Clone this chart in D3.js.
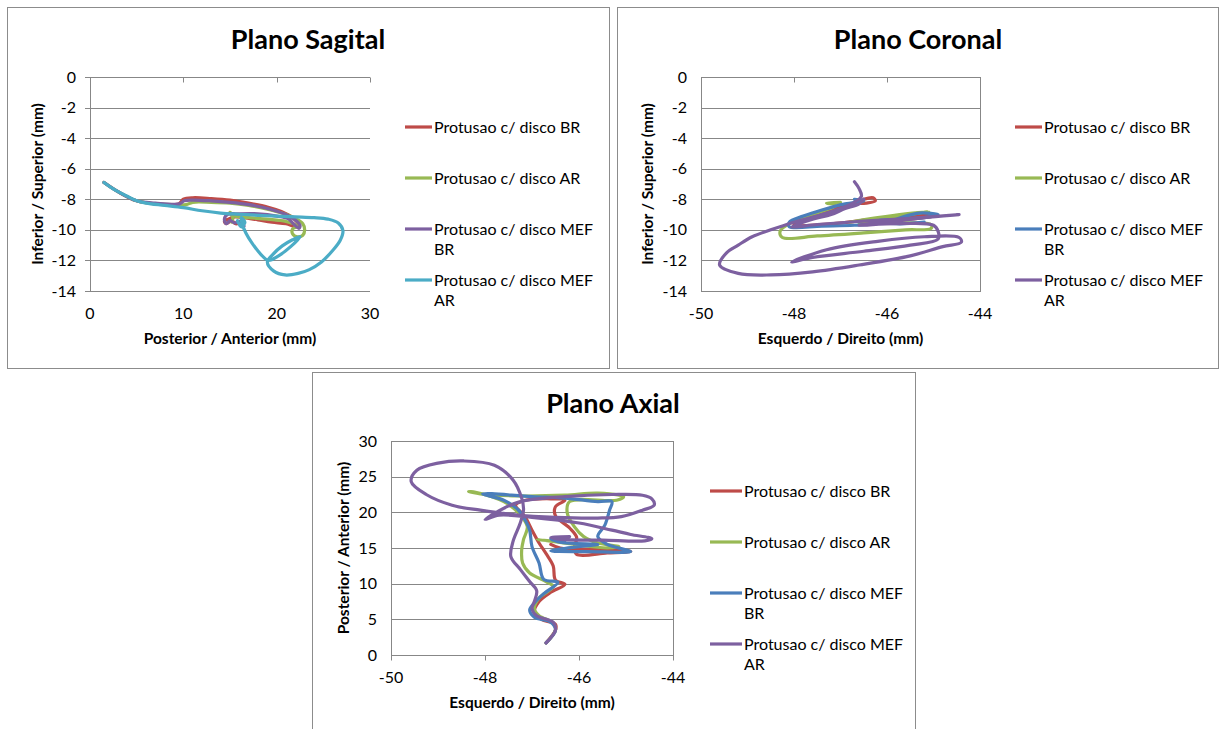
<!DOCTYPE html>
<html>
<head>
<meta charset="utf-8">
<script src="https://cdn.jsdelivr.net/npm/d3@7"></script>
<style>
  html, body { margin: 0; padding: 0; background: #fff; }
  svg { display: block; font-family: Lato, "Open Sans", sans-serif; }
</style>
</head>
<body>
<svg id="fig" width="1221" height="729"></svg>
<script>
// ---- Series names ----
const seriesNames = [
  "Protusao c/ disco BR",
  "Protusao c/ disco AR",
  "Protusao c/ disco MEF BR",
  "Protusao c/ disco MEF AR"
];

// ---- Tick values ----
const apTicks = [0, 10, 20, 30];
const isTicks = [0, -2, -4, -6, -8, -10, -12, -14];
const lrTicks = [-50, -48, -46, -44];
const apAxialTicks = [0, 5, 10, 15, 20, 25, 30];

// ---- Sagittal plane: [posterior/anterior, inferior/superior] ----
const sagBR = [[1.5,-6.9],[3,-7.5],[5,-8.1],[7,-8.3],[9.5,-8.3],[10,-8.0],[11,-7.9],[13,-7.95],[15,-8.05],[17,-8.25],[19,-8.5],[20.5,-8.8],[21.7,-9.2],[22.3,-9.6],[22.2,-9.8],[21,-9.6],[19.5,-9.5],[18,-9.35],[16.5,-9.2],[15.5,-9.15],[14.8,-9.3],[14.4,-9.45],[14.6,-9.6],[15.2,-9.4],[15.6,-9.6],[16.3,-9.5]];
const sagAR = [[1.5,-6.9],[3,-7.5],[5,-8.1],[7,-8.3],[9.5,-8.35],[10.3,-8.35],[11,-8.2],[13,-8.2],[15,-8.25],[17,-8.4],[19,-8.65],[20.8,-8.95],[22,-9.25],[22.8,-9.6],[23,-10.0],[22.8,-10.35],[22.2,-10.45],[21.7,-10.25],[21.7,-9.95],[22.2,-9.75],[21,-9.45],[19,-9.3],[17,-9.2],[15.5,-9.1],[15,-8.85],[15.3,-9.2],[15.2,-9.5]];
const sagMefBR = [[1.5,-6.9],[3,-7.5],[5,-8.1],[7,-8.25],[9.6,-8.3],[10.1,-8.1],[11,-8.05],[13,-8.1],[15,-8.2],[17,-8.35],[19,-8.6],[20.8,-8.95],[22,-9.35],[22.5,-9.7],[22.4,-9.9],[21.8,-9.6],[21.3,-9.3],[20,-9.1],[18,-8.95],[16,-8.95],[14.7,-9.0],[14.4,-9.3],[14.6,-9.6],[15,-9.4],[15.5,-9.55],[16,-9.45],[16.5,-9.75]];
const sagMefAR = [[1.5,-6.9],[2.2,-7.2],[3,-7.5],[4,-7.8],[5,-8.1],[6,-8.25],[8,-8.4],[10,-8.55],[12,-8.75],[14,-8.9],[16,-8.98],[18,-9.05],[20,-9.1],[22,-9.15],[24,-9.2],[25.5,-9.3],[26.6,-9.55],[27.1,-10.05],[26.8,-10.7],[26,-11.35],[24.8,-12.1],[23.5,-12.6],[22.3,-12.85],[20.9,-12.95],[19.7,-12.7],[19,-12.1],[19.6,-11.6],[20.6,-11.05],[21.7,-10.65],[22.5,-10.45],[21.5,-11.1],[20.2,-11.7],[19.1,-12.0],[18.3,-11.6],[17.4,-10.9],[16.7,-10.2],[16.3,-9.6],[16.2,-9.2],[16.6,-9.5],[16.2,-9.8],[15.8,-9.4]];

// ---- Coronal plane: [left/right, inferior/superior] ----
const corBR = [[-46.5,-8.0],[-46.3,-7.9],[-46.25,-8.1],[-46.45,-8.25],[-46.8,-8.3],[-47.3,-8.8],[-47.9,-9.4],[-48.0,-9.65],[-47.2,-9.6],[-46.3,-9.3],[-45.8,-9.15],[-45.3,-9.05],[-45.0,-9.1],[-45.5,-9.3],[-46.0,-9.45],[-46.5,-9.55]];
const corAR = [[-47.0,-8.2],[-47.3,-8.25],[-47.1,-8.4],[-47.6,-9.0],[-48.1,-9.6],[-48.3,-10.1],[-48.25,-10.5],[-47.5,-10.4],[-46.5,-10.2],[-45.6,-10.0],[-45.05,-9.9],[-45.05,-9.65],[-45.8,-9.55],[-46.6,-9.55],[-46.0,-9.2],[-45.5,-9.0],[-45.1,-8.8],[-45.6,-8.95],[-46.2,-9.2],[-46.8,-9.5]];
const corMefBR = [[-46.7,-8.0],[-46.5,-8.1],[-46.9,-8.3],[-47.4,-8.7],[-47.8,-9.1],[-48.1,-9.5],[-48.1,-9.8],[-47.4,-9.75],[-46.7,-9.7],[-46.0,-9.5],[-45.6,-9.1],[-45.3,-8.9],[-44.9,-9.0],[-45.2,-9.2],[-45.7,-9.3],[-46.2,-9.4],[-45.8,-9.6],[-45.2,-9.5]];
const corMefAR = [[-46.7,-6.85],[-46.6,-7.3],[-46.55,-7.8],[-46.7,-8.2],[-47.0,-8.6],[-47.4,-9.0],[-48.0,-9.5],[-48.5,-10.0],[-48.9,-10.45],[-49.2,-11.0],[-49.45,-11.5],[-49.6,-12.3],[-49.2,-12.85],[-48.5,-12.95],[-47.6,-12.75],[-46.6,-12.3],[-45.5,-11.7],[-44.8,-11.1],[-44.4,-10.8],[-44.45,-10.5],[-45.2,-10.45],[-46.2,-10.75],[-47.3,-11.3],[-48.05,-12.1],[-47.6,-11.8],[-46.5,-11.4],[-45.5,-11.0],[-44.9,-10.6],[-44.9,-10.1],[-45.0,-9.7],[-45.8,-9.6],[-46.6,-9.7],[-46.0,-9.5],[-45.2,-9.2],[-44.45,-9.0],[-45.5,-9.25],[-46.6,-9.45],[-47.5,-9.65],[-48.05,-9.8],[-47.6,-9.3],[-47.2,-9.0],[-46.9,-8.6],[-46.6,-8.3],[-46.5,-8.0]];

// ---- Axial plane: [left/right, posterior/anterior] ----
const axBR = [[-46.7,1.7],[-46.5,3.5],[-46.5,4.3],[-46.8,5.0],[-46.95,6.0],[-46.85,7.5],[-46.6,8.8],[-46.3,9.9],[-46.5,10.5],[-46.55,12.5],[-46.7,14.2],[-46.85,15.7],[-47.0,17.5],[-47.15,19.4],[-47.35,21.0],[-47.2,21.6],[-46.6,21.9],[-46.3,21.7],[-46.5,20.8],[-46.5,19.5],[-46.2,17.8],[-46.05,16.5],[-46.1,15.0],[-46.05,14.1],[-45.4,14.3],[-44.9,14.5],[-45.6,14.8],[-46.4,15.0],[-46.6,15.5]];
const axAR = [[-46.7,1.7],[-46.5,3.5],[-46.55,4.5],[-46.85,5.5],[-46.95,6.5],[-46.85,8.0],[-46.55,9.6],[-46.7,10.3],[-47.05,11.5],[-47.2,12.9],[-47.22,14.7],[-47.18,16.2],[-47.1,18.0],[-47.3,20.0],[-47.6,21.5],[-48.2,22.8],[-48.35,22.9],[-48.1,22.6],[-47.3,22.3],[-46.3,22.4],[-45.6,22.7],[-45.05,22.2],[-45.2,21.7],[-46.2,21.5],[-46.25,19.9],[-46.1,18.0],[-45.9,16.6],[-45.6,15.7],[-45.15,15.2],[-45.4,15.0],[-46.2,15.6],[-46.9,16.2],[-46.6,16.0]];
const axMefBR = [[-46.7,1.7],[-46.5,3.5],[-46.6,4.6],[-46.95,5.3],[-47.05,6.3],[-46.95,7.3],[-46.75,8.6],[-46.45,10.2],[-46.75,10.6],[-46.85,12.9],[-47.0,15.2],[-47.05,17.5],[-47.15,19.0],[-47.3,20.4],[-47.6,21.7],[-48.05,22.6],[-47.0,22.2],[-46.3,22.0],[-45.6,21.5],[-45.3,21.5],[-45.35,20.3],[-45.45,18.2],[-45.6,16.6],[-45.4,15.5],[-44.9,14.5],[-45.8,14.5],[-46.6,14.6],[-46.0,15.2],[-45.6,15.5],[-46.4,15.8],[-46.6,16.3],[-46.3,16.1]];
const axMefAR = [[-46.7,1.7],[-46.5,3.5],[-46.55,4.6],[-46.9,5.5],[-47.0,6.5],[-46.95,7.5],[-46.9,9.0],[-47.05,10.3],[-47.25,12.0],[-47.45,13.8],[-47.4,16.0],[-47.25,18.5],[-47.18,20.4],[-47.22,22.0],[-47.4,24.5],[-47.8,26.6],[-48.45,27.2],[-49.0,26.9],[-49.45,25.9],[-49.57,24.3],[-49.25,22.5],[-48.7,21.0],[-48.1,20.3],[-47.4,19.7],[-46.5,19.3],[-45.6,19.2],[-45.1,19.4],[-44.65,20.3],[-44.4,21.0],[-44.45,21.9],[-44.65,22.4],[-45.3,22.5],[-46.3,22.2],[-47.3,21.4],[-48.0,19.0],[-47.7,19.6],[-47.0,19.3],[-46.0,18.5],[-45.3,17.5],[-44.9,16.9],[-44.45,16.3],[-44.6,16.0],[-45.5,16.1],[-46.4,16.2],[-46.6,16.5],[-46.2,16.6]];

// ---- Colours ----
const RED = "#be4b48", GREEN = "#98b954", PURPLE = "#7d60a0", BLUE = "#4a7ebb", AQUA = "#4bacc6";
const GRID = "#878787", FRAME = "#8c8c8c";

const svg = d3.select("#fig");

function wrapLabel(textSel, str, maxW) {
  const words = str.split(" ");
  let line = [];
  let tspan = textSel.append("tspan").attr("x", textSel.attr("x")).attr("dy", 0);
  for (const w of words) {
    line.push(w);
    tspan.text(line.join(" "));
    if (tspan.node().getComputedTextLength() > maxW && line.length > 1) {
      line.pop();
      tspan.text(line.join(" "));
      line = [w];
      tspan = textSel.append("tspan").attr("x", textSel.attr("x")).attr("dy", 20).text(w);
    }
  }
}

function drawChart(cfg) {
  const g = svg.append("g");
  // chart frame
  g.append("rect")
    .attr("x", cfg.box[0] + 0.5).attr("y", cfg.box[1] + 0.5)
    .attr("width", cfg.box[2]).attr("height", cfg.box[3])
    .attr("fill", "#fff").attr("stroke", FRAME).attr("stroke-width", 1);

  const x = d3.scaleLinear().domain(cfg.xDomain).range([cfg.plot.l, cfg.plot.r]);
  const y = d3.scaleLinear().domain(cfg.yDomain).range([cfg.plot.b, cfg.plot.t]);

  // horizontal gridlines
  g.append("g").selectAll("line").data(cfg.yTicks).join("line")
    .attr("x1", cfg.plot.l).attr("x2", cfg.plot.r)
    .attr("y1", d => Math.round(y(d)) + 0.5).attr("y2", d => Math.round(y(d)) + 0.5)
    .attr("stroke", GRID).attr("stroke-width", 1);

  // vertical axis lines
  cfg.vLines.forEach(v => {
    const px = Math.round(x(v)) + 0.5;
    g.append("line").attr("x1", px).attr("x2", px)
      .attr("y1", cfg.plot.t).attr("y2", cfg.plot.b + 1)
      .attr("stroke", GRID).attr("stroke-width", 1);
  });

  // y tick marks on the left axis
  if (cfg.yTickMarks) {
    g.append("g").selectAll("line").data(cfg.yTicks).join("line")
      .attr("x1", cfg.plot.l - 5).attr("x2", cfg.plot.l)
      .attr("y1", d => Math.round(y(d)) + 0.5).attr("y2", d => Math.round(y(d)) + 0.5)
      .attr("stroke", GRID);
  }

  // x axis tick marks along the axis line (top or bottom)
  const axY = Math.round(y(cfg.xAxisAt)) + 0.5;
  g.append("g").selectAll("line").data(cfg.xTicks).join("line")
    .attr("x1", d => Math.round(x(d)) + 0.5).attr("x2", d => Math.round(x(d)) + 0.5)
    .attr("y1", axY).attr("y2", axY + 5)
    .attr("stroke", GRID);

  // tick labels
  g.append("g").selectAll("text").data(cfg.yTicks).join("text")
    .attr("x", cfg.plot.l - 14).attr("y", d => y(d) + 5.5)
    .attr("text-anchor", "end").attr("font-size", 16).attr("fill", "#000")
    .text(d => d);
  g.append("g").selectAll("text").data(cfg.xTicks).join("text")
    .attr("x", d => x(d)).attr("y", cfg.plot.b + 28)
    .attr("text-anchor", "middle").attr("font-size", 16).attr("fill", "#000")
    .text(d => d);

  // titles
  g.append("text").attr("x", cfg.titlePos[0]).attr("y", cfg.titlePos[1])
    .attr("text-anchor", "middle").attr("font-size", 27).attr("font-weight", "bold")
    .text(cfg.title);
  g.append("text").attr("x", (cfg.plot.l + cfg.plot.r) / 2).attr("y", cfg.plot.b + 53)
    .attr("text-anchor", "middle").attr("font-size", 15.5).attr("font-weight", "bold")
    .text(cfg.xTitle);
  g.append("text")
    .attr("transform", `translate(${cfg.yTitleX},${(cfg.plot.t + cfg.plot.b) / 2}) rotate(-90)`)
    .attr("text-anchor", "middle").attr("font-size", 15.5).attr("font-weight", "bold")
    .text(cfg.yTitle);

  // series paths
  const line = d3.line().curve(d3.curveCatmullRom.alpha(0.5)).x(d => x(d[0])).y(d => y(d[1]));
  cfg.series.forEach(s => {
    g.append("path").datum(s.data)
      .attr("d", line).attr("fill", "none")
      .attr("stroke", s.color).attr("stroke-width", 3.2)
      .attr("stroke-linejoin", "round").attr("stroke-linecap", "round");
  });

  // legend
  const lg = g.append("g");
  cfg.series.forEach((s, i) => {
    const ly = cfg.legend.y + i * cfg.legend.step;
    lg.append("line").attr("x1", cfg.legend.x).attr("x2", cfg.legend.x + cfg.legend.len)
      .attr("y1", ly).attr("y2", ly)
      .attr("stroke", s.color).attr("stroke-width", 3.2);
    const t = lg.append("text").attr("x", cfg.legend.x + cfg.legend.len + 2).attr("y", ly + 5.5)
      .attr("font-size", 16).attr("fill", "#000");
    wrapLabel(t, s.name, cfg.legend.maxW);
  });
}

drawChart({
  box: [7, 7, 602, 361],
  plot: { l: 90, r: 370, t: 77, b: 291 },
  xDomain: [0, 30], yDomain: [-14, 0],
  xTicks: apTicks, yTicks: isTicks,
  xAxisAt: 0, vLines: [0], yTickMarks: true,
  title: "Plano Sagital", titlePos: [308, 49],
  xTitle: "Posterior / Anterior (mm)", yTitle: "Inferior / Superior (mm)", yTitleX: 43,
  series: [
    { name: seriesNames[0], color: RED, data: sagBR },
    { name: seriesNames[1], color: GREEN, data: sagAR },
    { name: seriesNames[2], color: PURPLE, data: sagMefBR },
    { name: seriesNames[3], color: AQUA, data: sagMefAR }
  ],
  legend: { x: 405, y: 127, step: 51, len: 27, maxW: 168 }
});

drawChart({
  box: [617, 7, 601, 361],
  plot: { l: 701, r: 980, t: 77, b: 291 },
  xDomain: [-50, -44], yDomain: [-14, 0],
  xTicks: lrTicks, yTicks: isTicks,
  xAxisAt: 0, vLines: [-50, -44], yTickMarks: false,
  title: "Plano Coronal", titlePos: [918, 49],
  xTitle: "Esquerdo / Direito (mm)", yTitle: "Inferior / Superior (mm)", yTitleX: 653,
  series: [
    { name: seriesNames[0], color: RED, data: corBR },
    { name: seriesNames[1], color: GREEN, data: corAR },
    { name: seriesNames[2], color: BLUE, data: corMefBR },
    { name: seriesNames[3], color: PURPLE, data: corMefAR }
  ],
  legend: { x: 1015, y: 127, step: 51, len: 27, maxW: 168 }
});

drawChart({
  box: [312, 372, 603, 360],
  plot: { l: 391, r: 673, t: 441, b: 655 },
  xDomain: [-50, -44], yDomain: [0, 30],
  xTicks: lrTicks, yTicks: apAxialTicks,
  xAxisAt: 0, vLines: [-50, -44], yTickMarks: false,
  title: "Plano Axial", titlePos: [613, 413],
  xTitle: "Esquerdo / Direito (mm)", yTitle: "Posterior / Anterior (mm)", yTitleX: 349,
  series: [
    { name: seriesNames[0], color: RED, data: axBR },
    { name: seriesNames[1], color: GREEN, data: axAR },
    { name: seriesNames[2], color: BLUE, data: axMefBR },
    { name: seriesNames[3], color: PURPLE, data: axMefAR }
  ],
  legend: { x: 710, y: 491, step: 51, len: 32, maxW: 168 }
});
</script>
</body>
</html>
